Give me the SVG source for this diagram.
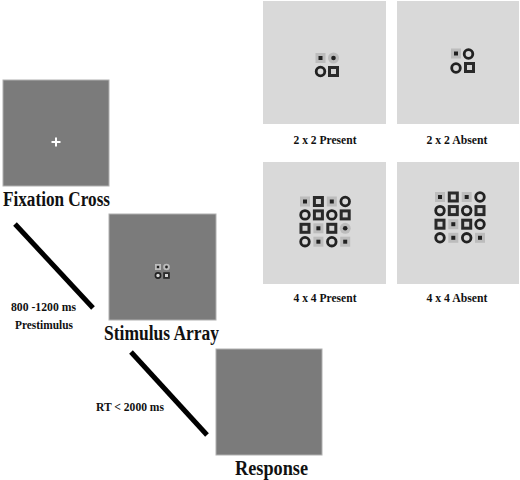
<svg xmlns="http://www.w3.org/2000/svg" xmlns:xlink="http://www.w3.org/1999/xlink" width="520" height="480" viewBox="0 0 520 480">
<style>
.dark{fill:#7b7b7b;stroke:#b0b0b0;stroke-width:1}
.light{fill:#d9d9d9}
.big{font-family:"Liberation Serif","Times New Roman",serif;font-weight:bold;font-size:20px;fill:#111;text-anchor:middle}
.small{font-family:"Liberation Serif","Times New Roman",serif;font-weight:bold;font-size:12.5px;fill:#111}
.cap{font-family:"Liberation Serif","Times New Roman",serif;font-weight:bold;font-size:12px;fill:#111;text-anchor:middle}
.conn{stroke:#000;stroke-width:5;fill:none}
</style>
<defs>
<g id="A"><rect x="-5" y="-5" width="10" height="10" fill="#bcbcbc"/><rect x="-2" y="-2" width="4" height="4" fill="#222"/></g>
<g id="B"><circle r="5.5" fill="#bcbcbc"/><circle r="2.3" fill="#222"/></g>
<g id="C"><circle r="4.3" fill="#d9d9d9" stroke="#222" stroke-width="2.8"/></g>
<g id="D"><rect x="-5.5" y="-5.5" width="11" height="11" fill="#2a2a2a"/><rect x="-2.5" y="-2.5" width="5" height="5" fill="#d4d4d4"/></g>
</defs>
<rect width="520" height="480" fill="#fff"/>

<g id="connectors">
<line class="conn" x1="15" y1="224" x2="93" y2="308"/>
<line class="conn" x1="131" y1="352" x2="207" y2="435"/>
</g>

<g id="fixation">
<rect class="dark" x="3" y="80" width="106" height="106"/>
<path d="M51.5 142H60.5M56 137.5V146.5" stroke="#fff" stroke-width="2"/>
<text class="big" x="56.5" y="206" textLength="107" lengthAdjust="spacingAndGlyphs">Fixation Cross</text>
</g>

<g id="timing1">
<text class="small" x="43.5" y="311" text-anchor="middle" textLength="65" lengthAdjust="spacingAndGlyphs">800 -1200 ms</text>
<text class="small" x="44" y="329" text-anchor="middle" textLength="58" lengthAdjust="spacingAndGlyphs">Prestimulus</text>
</g>

<g id="stimulus">
<rect class="dark" x="109" y="214" width="107" height="106"/>
<use xlink:href="#A" transform="translate(158,267) scale(0.6)"/>
<use xlink:href="#B" transform="translate(166.5,267) scale(0.6)"/>
<use xlink:href="#C" transform="translate(158,275.5) scale(0.6)"/>
<use xlink:href="#D" transform="translate(166.5,275.5) scale(0.6)"/>
<text class="big" x="161.5" y="340" textLength="115" lengthAdjust="spacingAndGlyphs">Stimulus Array</text>
</g>

<g id="timing2">
<text class="small" x="96" y="411" textLength="68" lengthAdjust="spacingAndGlyphs">RT &lt; 2000 ms</text>
</g>

<g id="response">
<rect class="dark" x="216" y="349" width="106" height="106"/>
<text class="big" x="271.5" y="475" textLength="73" lengthAdjust="spacingAndGlyphs">Response</text>
</g>

<g id="p22present">
<rect class="light" x="263" y="1" width="123" height="123"/>
<use xlink:href="#A" x="320.5" y="58"/>
<use xlink:href="#B" x="333.5" y="58"/>
<use xlink:href="#C" x="320.5" y="71.5"/>
<use xlink:href="#D" x="333.5" y="71.5"/>
<text class="cap" x="325" y="144" textLength="63" lengthAdjust="spacingAndGlyphs">2 x 2 Present</text>
</g>

<g id="p22absent">
<rect class="light" x="397" y="1" width="122" height="123"/>
<use xlink:href="#A" x="456" y="53.5"/>
<use xlink:href="#C" x="468.5" y="54"/>
<use xlink:href="#C" x="456" y="68"/>
<use xlink:href="#D" x="469.5" y="67.5"/>
<text class="cap" x="457" y="144" textLength="61" lengthAdjust="spacingAndGlyphs">2 x 2 Absent</text>
</g>

<g id="p44present">
<rect class="light" x="263" y="162" width="123" height="122"/>
<use xlink:href="#A" x="305" y="201.5"/>
<use xlink:href="#D" x="318.4" y="201.5"/>
<use xlink:href="#A" x="331.8" y="201.5"/>
<use xlink:href="#C" x="345.2" y="201.5"/>
<use xlink:href="#C" x="305" y="214.9"/>
<use xlink:href="#D" x="318.4" y="214.9"/>
<use xlink:href="#C" x="331.8" y="214.9"/>
<use xlink:href="#D" x="345.2" y="214.9"/>
<use xlink:href="#D" x="305" y="228.3"/>
<use xlink:href="#A" x="318.4" y="228.3"/>
<use xlink:href="#D" x="331.8" y="228.3"/>
<use xlink:href="#B" x="345.2" y="228.3"/>
<use xlink:href="#C" x="305" y="241.7"/>
<use xlink:href="#A" x="318.4" y="241.7"/>
<use xlink:href="#C" x="331.8" y="241.7"/>
<use xlink:href="#A" x="345.2" y="241.7"/>
<text class="cap" x="325" y="302" textLength="63" lengthAdjust="spacingAndGlyphs">4 x 4 Present</text>
</g>

<g id="p44absent">
<rect class="light" x="397" y="162" width="122" height="122"/>
<use xlink:href="#A" x="440" y="197"/>
<use xlink:href="#D" x="453.3" y="197"/>
<use xlink:href="#A" x="466.7" y="197"/>
<use xlink:href="#C" x="480" y="197"/>
<use xlink:href="#C" x="440" y="210.6"/>
<use xlink:href="#D" x="453.3" y="210.6"/>
<use xlink:href="#C" x="466.7" y="210.6"/>
<use xlink:href="#D" x="480" y="210.6"/>
<use xlink:href="#D" x="440" y="224.2"/>
<use xlink:href="#A" x="453.3" y="224.2"/>
<use xlink:href="#D" x="466.7" y="224.2"/>
<use xlink:href="#C" x="480" y="224.2"/>
<use xlink:href="#C" x="440" y="237.8"/>
<use xlink:href="#A" x="453.3" y="237.8"/>
<use xlink:href="#C" x="466.7" y="237.8"/>
<use xlink:href="#A" x="480" y="237.8"/>
<text class="cap" x="457" y="302" textLength="61" lengthAdjust="spacingAndGlyphs">4 x 4 Absent</text>
</g>
</svg>
